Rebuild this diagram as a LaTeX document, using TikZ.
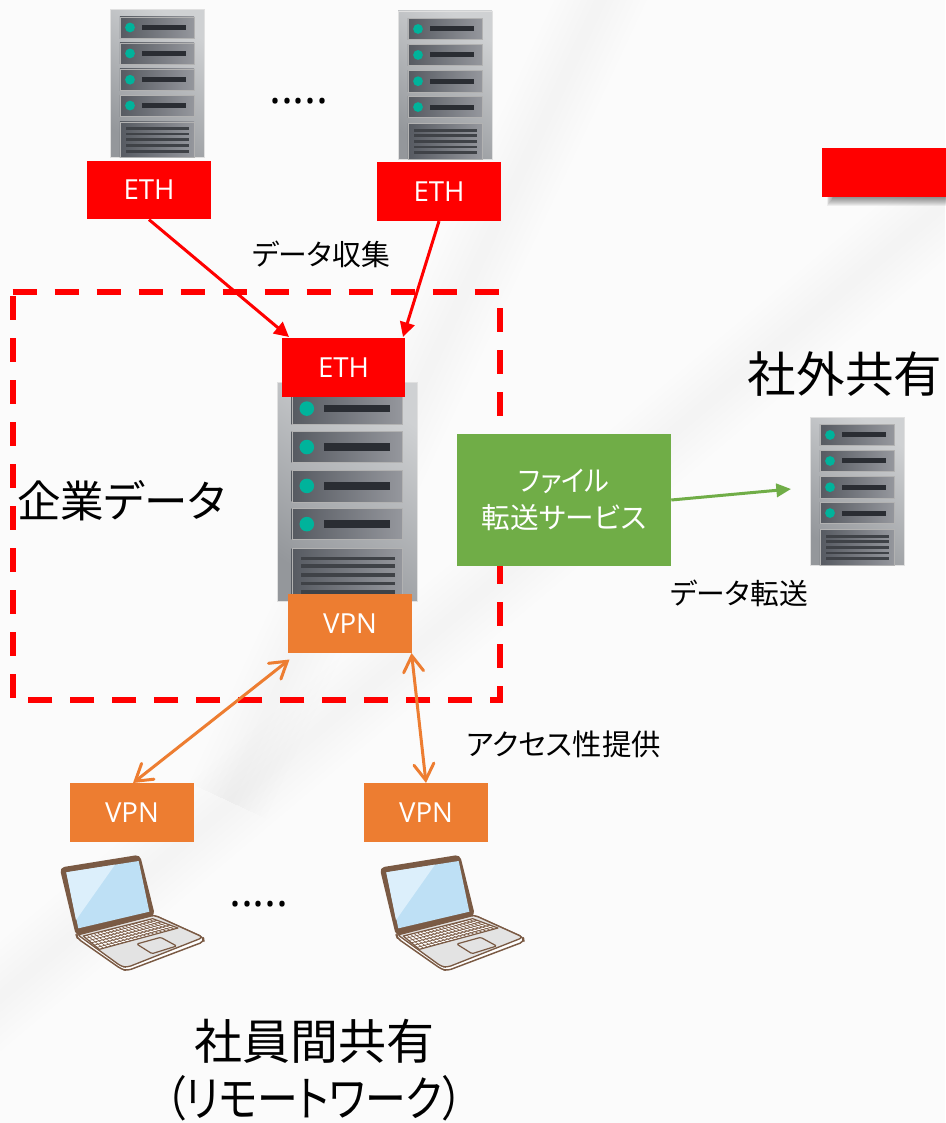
\documentclass[tikz,border=0pt]{standalone}
\usepackage{fontspec}
\setmainfont{Open Sans}
\newfontfamily\cjk[RawFeature=+palt]{Noto Sans CJK JP}
\usetikzlibrary{arrows.meta,calc}
\definecolor{bgc}{HTML}{FBFBFB}
\definecolor{redc}{HTML}{FF0000}
\definecolor{orc}{HTML}{ED7D31}
\definecolor{grc}{HTML}{70AD47}
\definecolor{tealc}{HTML}{00B39B}
\definecolor{barc}{HTML}{2A2D33}
\definecolor{brownc}{HTML}{7A5A44}
\definecolor{rackhi}{HTML}{CFD1D3}
\definecolor{racklo}{HTML}{94979B}
\definecolor{rowlo}{HTML}{565A61}
\definecolor{rowhi}{HTML}{95979D}
\definecolor{scrc}{HTML}{BEE0F5}
\definecolor{scrl}{HTML}{DCEFFB}
\definecolor{basec}{HTML}{E3E3E3}
\tikzset{
  x=0.75pt,y=-0.75pt,
  tagbox/.style={inner sep=0,minimum width=92.5pt,minimum height=44pt,text=white,font=\fontsize{20.7}{23}\selectfont},
  ethbox/.style={tagbox,fill=redc},
  vpnbox/.style={tagbox,fill=orc},
  lbl/.style={inner sep=0,text=black,font=\cjk\fontsize{21.6}{25}\selectfont},
  big/.style={inner sep=0,text=black,align=center,font=\cjk\fontsize{36}{42}\selectfont},
  ethline/.style={redc,line width=2.25pt,-{Triangle[length=11pt,width=11pt]}},
  vpnline/.style={orc,line width=2.25pt,{Straight Barb[length=12pt,width=15pt,line cap=round]}-{Straight Barb[length=12pt,width=15pt,line cap=round]}},
  trline/.style={grc,line width=2.25pt,-{Triangle[length=11pt,width=10pt]}},
  rack/.style={top color=rackhi,bottom color=racklo,shading angle=-35,draw=black!12,line width=.3pt},
  rowb/.style={left color=rowlo,right color=rowhi,draw=black!30,line width=.3pt},
  dots/.style={inner sep=0,text=black,font=\fontsize{33.8}{34}\selectfont},
  sheen/.style={black,opacity=.004},
}
% server drawn in a unit box: #1 left, #2 top, #3 width, #4 height (px)
\newcommand{\drawserver}[4]{%
  \begin{scope}[shift={(#1,#2)},x=#3*0.75pt,y=-#4*0.75pt]
    \fill[rack] (0,0) rectangle (1,1);
    \foreach \a/\b in {.05/.193,.226/.368,.402/.547,.578/.72}{
      \fill[rowb] (.105,\a) rectangle (.895,\b);
      \fill[barc] (.336,{(\a+\b)/2-.017}) rectangle (.81,{(\a+\b)/2+.017});
      \fill[tealc] (.213,{(\a+\b)/2}) ellipse[x radius=.052,y radius={.052*#3/#4}];
    }
    \fill[rowb] (.105,.76) rectangle (.895,1);
    \foreach \c in {.806,.842,.88,.92,.958}{
      \fill[barc!90] (.17,\c-.009) rectangle (.84,\c+.009);
    }
  \end{scope}}
% laptop in zoomed coordinates (3 units per px)
\newcommand{\drawlaptop}[2]{%
  \begin{scope}[shift={(#1,#2)},x=0.25pt,y=-0.25pt,line join=round]
    \filldraw[fill=white,draw=brownc,line width=1.1pt,rounded corners=3pt]
      (108,283) -- (342,225) -- (490,292) -- (492,305) -- (262,392) -- (245,388) -- (112,295) -- cycle;
    \filldraw[fill=basec,draw=brownc,line width=1pt,rounded corners=3pt]
      (110,282) -- (342,225) -- (490,292) -- (262,382) -- (245,380) -- cycle;
    \filldraw[fill=white,draw=brownc,line width=.9pt] (130,288) -- (338,236) -- (414,264) -- (178,328) -- cycle;
    \foreach \t in {.17,.34,.51,.68,.85}{
      \draw[brownc,line width=.5pt] ($(130,288)!\t!(178,328)$) -- ($(338,236)!\t!(414,264)$);
    }
    \foreach \t in {.05,.10,...,.96}{
      \draw[brownc,line width=.5pt] ($(130,288)!\t!(338,236)$) -- ($(178,328)!\t!(414,264)$);
    }
    \filldraw[fill=basec,draw=brownc,line width=.9pt,rounded corners=1pt] (290,312) -- (362,292) -- (410,318) -- (336,341) -- cycle;
    \filldraw[fill=brownc,draw=brownc,line width=1.3pt,rounded corners=3pt]
      (62,85) -- (298,47) -- (342,225) -- (110,285) -- cycle;
    \fill[scrc] (79,97) -- (296,63) -- (328,215) -- (115,265) -- cycle;
    \fill[scrl] (79,97) -- (225,74) -- (108,240) -- cycle;
  \end{scope}}
\begin{document}
\begin{tikzpicture}
\useasboundingbox (0,0) rectangle (945,1123);
\fill[bgc] (0,0) rectangle (945,1123);
% faint background sheen: stacked, very light diagonal bands
\begin{scope}
\clip (0,0) rectangle (945,1123);
\foreach \w in {6,12,...,42}{
  \fill[sheen,rotate around={40:(330,720)}] (-500,720-\w) rectangle (1200,720+\w);
  \fill[sheen,rotate around={65:(540,130)}] (-200,130-\w) rectangle (1200,130+\w);
}
\end{scope}

% servers
\drawserver{110}{9.5}{94}{148}
\drawserver{398}{11}{94}{148}
\drawserver{277}{382}{140}{219}
\drawserver{810}{417}{94}{148}

% laptops
\drawlaptop{40}{840}
\drawlaptop{360}{840}

% region
\node[inner sep=0,minimum width=365.25pt,minimum height=306pt] (region) at (256.5,496) {};
\draw[redc,line width=4.5pt,dash pattern=on 18pt off 13.5pt]
  (region.north west) -- (region.north east) -- (region.south east) -- (region.south west) -- cycle;

% tags
\node[ethbox] (e1) at (149,190) {ETH};
\node[ethbox] (e2) at (439,191.5) {ETH};
\node[ethbox] (e3) at (343.5,367.5) {ETH};
\node[vpnbox] (v3) at (350,623.5) {VPN};
\node[vpnbox] (v1) at (132,812.5) {VPN};
\node[vpnbox] (v2) at (426,812.5) {VPN};
\node[fill=grc,inner sep=0,minimum width=160.5pt,minimum height=99pt,text=white,align=center,font=\cjk\fontsize{21.5}{27.5}\selectfont] (gbox) at (564,500) {\scalebox{.91}[1]{ファイル}\\転送サービス};
% soft shadow of the red box
\foreach \i in {1,...,9}{
  \fill[black,opacity=.055] (834-\i*.8,160) rectangle (950,197+\i);
}
\node[fill=redc,inner sep=0,minimum width=96pt,minimum height=37pt] (rbox) at (886,172.5) {};

% connector ends
\coordinate (e3a) at (289,337);
\coordinate (e3b) at (403,337);
\coordinate (v3a) at (289.5,659.5);
\coordinate (v3b) at (411.5,653);
\coordinate (v1a) at (133,783);
\coordinate (srvr) at (791,489);

% connectors
\draw[ethline] (e1.south) -- (e3a);
\draw[ethline] (e2.south) -- (e3b);
\draw[vpnline] (v3a) -- (v1a);
\draw[vpnline] (v3b) -- (v2.north);
\draw[trline] (gbox.east) -- (srvr);

% labels
\node[lbl] (t1) at (321,254) {データ収集};
\node[lbl] (t2) at (739,593) {データ転送};
\node[lbl,font=\cjk\fontsize{22}{25}\selectfont] (t3) at (563.5,744) {アクセス性提供};
\node[big,font=\cjk\fontsize{32.6}{38}\selectfont] (t4) at (121.5,501) {企業データ};
\node[big,font=\cjk\fontsize{36.4}{42}\selectfont] (t5) at (845,374) {社外共有};
\node[big] (t6) at (314,1041) {社員間共有};
\node[big,xscale=.85,transform shape] (t7) at (314,1098) {（リモートワーク）};
\node[dots] (d1) at (299,101) {.....};
\node[dots] (d2) at (259,904) {.....};
\end{tikzpicture}
\end{document}
